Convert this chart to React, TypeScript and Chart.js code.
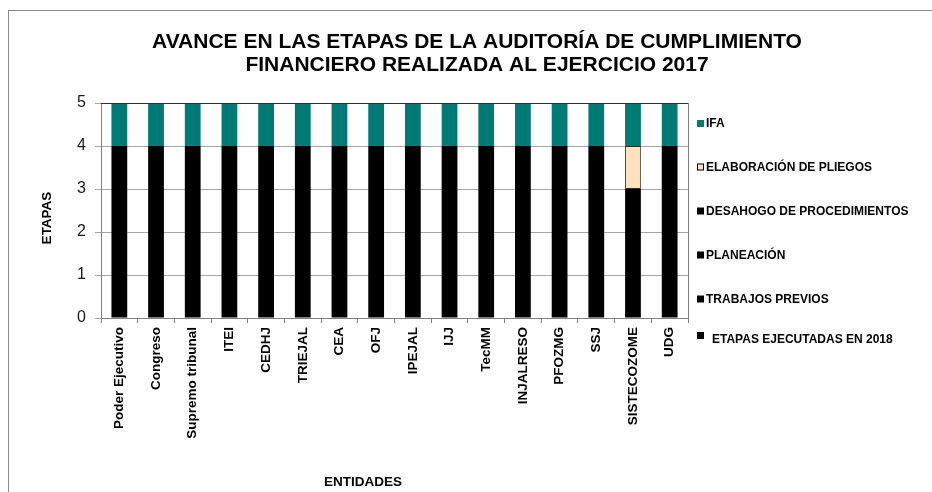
import React, { useEffect, useRef } from "react";
import { Chart, registerables } from "chart.js";

Chart.register(...registerables);

const entidades = [
  "Poder Ejecutivo", "Congreso", "Supremo tribunal", "ITEI", "CEDHJ", "TRIEJAL",
  "CEA", "OFJ", "IPEJAL", "IJJ", "TecMM", "INJALRESO", "PFOZMG", "SSJ",
  "SISTECOZOME", "UDG",
];
const trabajosPrevios = [1, 1, 1, 1, 1, 1, 1, 1, 1, 1, 1, 1, 1, 1, 1, 1];
const planeacion = [1, 1, 1, 1, 1, 1, 1, 1, 1, 1, 1, 1, 1, 1, 1, 1];
const desahogo = [1, 1, 1, 1, 1, 1, 1, 1, 1, 1, 1, 1, 1, 1, 1, 1];
const elaboracionPliegos = [1, 1, 1, 1, 1, 1, 1, 1, 1, 1, 1, 1, 1, 1, 1, 1];
const ifa = [1, 1, 1, 1, 1, 1, 1, 1, 1, 1, 1, 1, 1, 1, 1, 1];
// 1 = pliegos stage executed in 2018 (drawn black), 0 = pending (drawn peach)
const pliegosEjecutados2018 = [1, 1, 1, 1, 1, 1, 1, 1, 1, 1, 1, 1, 1, 1, 0, 1];

const yMin = 0;
const yMax = 5;
const yStep = 1;

const titleLines = [
  "AVANCE EN LAS ETAPAS DE LA AUDITORÍA DE CUMPLIMIENTO",
  "FINANCIERO REALIZADA AL EJERCICIO 2017",
];
const yTitle = "ETAPAS";
const xTitle = "ENTIDADES";
const legendLabels = [
  "IFA",
  "ELABORACIÓN DE PLIEGOS",
  "DESAHOGO DE PROCEDIMIENTOS",
  "PLANEACIÓN",
  "TRABAJOS PREVIOS",
];
const extraLegendLabel = "ETAPAS EJECUTADAS EN 2018";

const FONT = "'Liberation Sans', Arial, Helvetica, sans-serif";
const BLACK = "#000000";
const TEAL = "#007A74";
const PEACH = "#FFE0BF";

const legendColors = [TEAL, PEACH, BLACK, BLACK, BLACK];

const decorPlugin = {
  id: "decor",
  afterDatasetsDraw(chart: any) {
    const { ctx, chartArea: ca } = chart;
    ctx.save();
    ctx.lineWidth = 1;
    ctx.strokeStyle = "#303030";
    ctx.beginPath();
    ctx.moveTo(ca.left, Math.round(ca.top) + 0.5);
    ctx.lineTo(ca.right, Math.round(ca.top) + 0.5);
    ctx.stroke();
    ctx.strokeStyle = "#808080";
    ctx.beginPath();
    ctx.moveTo(Math.round(ca.right) + 0.5, ca.top);
    ctx.lineTo(Math.round(ca.right) + 0.5, ca.bottom);
    ctx.stroke();
    ctx.restore();
  },
  afterDraw(chart: any) {
    const { ctx } = chart;
    ctx.save();
    ctx.fillStyle = "#000";
    ctx.font = `bold 21px ${FONT}`;
    ctx.textAlign = "center";
    ctx.textBaseline = "middle";
    ctx.fillText(titleLines[0], 477, 42);
    ctx.fillText(titleLines[1], 477, 65);
    ctx.font = `bold 13.5px ${FONT}`;
    ctx.fillText(xTitle, 363, 482);
    ctx.save();
    ctx.translate(47, 218);
    ctx.rotate(-Math.PI / 2);
    ctx.fillText(yTitle, 0, 0);
    ctx.restore();
    ctx.font = `bold 12px ${FONT}`;
    ctx.textAlign = "left";
    const ys = [123.5, 167, 211, 255, 299];
    legendLabels.forEach((lab, i) => {
      const y = ys[i];
      ctx.fillStyle = legendColors[i];
      ctx.fillRect(697, y - 3.5, 7, 7);
      if (legendColors[i] === PEACH) {
        ctx.strokeStyle = "#000";
        ctx.lineWidth = 1;
        ctx.strokeRect(697.5, y - 3, 6, 6);
      }
      ctx.fillStyle = "#000";
      ctx.fillText(lab, 706, y + 0.5);
    });
    ctx.fillStyle = BLACK;
    ctx.fillRect(697, 332, 7, 7);
    ctx.fillText(extraLegendLabel, 712, 339.5);
    ctx.restore();
  },
};

export default function App() {
  const ref = useRef<HTMLCanvasElement | null>(null);

  useEffect(() => {
    if (!ref.current) return;
    const pliegosColors = pliegosEjecutados2018.map((e) => (e ? BLACK : PEACH));
    const pliegosBorder = pliegosEjecutados2018.map((e) => (e ? 0 : 1));
    const common = {
      barPercentage: 0.43,
      categoryPercentage: 1,
      borderWidth: 0,
    };
    const chart = new Chart(ref.current, {
      type: "bar",
      data: {
        labels: entidades,
        datasets: [
          { label: "TRABAJOS PREVIOS", data: trabajosPrevios, backgroundColor: BLACK, ...common },
          { label: "PLANEACIÓN", data: planeacion, backgroundColor: BLACK, ...common },
          { label: "DESAHOGO DE PROCEDIMIENTOS", data: desahogo, backgroundColor: BLACK, ...common },
          {
            label: "ELABORACIÓN DE PLIEGOS",
            data: elaboracionPliegos,
            backgroundColor: pliegosColors,
            ...common,
            borderWidth: pliegosBorder,
            borderColor: "#3a2a1a",
            borderSkipped: false,
          },
          { label: "IFA", data: ifa, backgroundColor: TEAL, ...common },
        ],
      },
      options: {
        responsive: false,
        animation: false,
        layout: { padding: { left: 0, top: 103, right: 244, bottom: 0 } },
        plugins: {
          legend: { display: false },
          title: { display: false },
          tooltip: { enabled: false },
        },
        scales: {
          x: {
            stacked: true,
            grid: {
              display: true,
              drawOnChartArea: false,
              offset: true,
              tickLength: 5,
              color: "#808080",
            },
            border: { color: "#808080" },
            ticks: {
              autoSkip: false,
              maxRotation: 90,
              minRotation: 90,
              padding: 4,
              color: "#000",
              font: { family: FONT, size: 13.5, weight: "bold" },
            },
            afterFit: (s: any) => {
              s.height = 174;
            },
          },
          y: {
            stacked: true,
            min: yMin,
            max: yMax,
            ticks: {
              stepSize: yStep,
              padding: 9,
              color: "#1a1a1a",
              font: { family: FONT, size: 16 },
            },
            grid: { color: "#a6a6a6", tickLength: 6 },
            border: { color: "#808080" },
            afterFit: (s: any) => {
              s.width = 101;
            },
          },
        },
      },
      plugins: [decorPlugin],
    } as any);
    return () => chart.destroy();
  }, []);

  return (
    <div
      style={{
        position: "fixed",
        left: 0,
        top: 0,
        width: 932,
        height: 492,
        overflow: "hidden",
        background: "#fff",
      }}
    >
      <div
        style={{
          position: "absolute",
          left: 8,
          top: 10,
          width: 2000,
          height: 2000,
          border: "1px solid #888",
        }}
      />
      <canvas
        ref={ref}
        width={932}
        height={492}
        style={{ position: "absolute", left: 0, top: 0, width: 932, height: 492 }}
      />
    </div>
  );
}
